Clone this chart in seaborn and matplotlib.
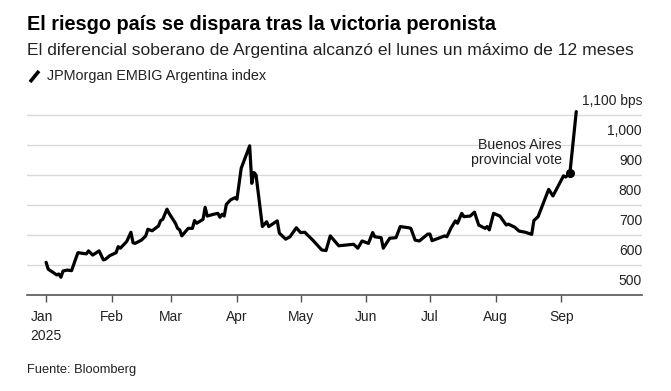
import matplotlib
matplotlib.use("Agg")
import matplotlib.pyplot as plt
import matplotlib.transforms as mtransforms
from matplotlib.lines import Line2D
import seaborn as sns
import pandas as pd

# JPMorgan EMBIG Argentina spread, bps
dates = [
    "2025-01-01", "2025-01-02", "2025-01-06", "2025-01-07", "2025-01-08", "2025-01-09",
    "2025-01-11", "2025-01-13", "2025-01-16", "2025-01-18", "2025-01-20", "2025-01-21",
    "2025-01-23", "2025-01-26", "2025-01-28", "2025-01-29", "2025-01-31", "2025-02-03",
    "2025-02-04", "2025-02-05", "2025-02-08", "2025-02-10", "2025-02-11", "2025-02-12",
    "2025-02-15", "2025-02-17", "2025-02-18", "2025-02-20", "2025-02-23", "2025-02-24",
    "2025-02-25", "2025-02-27", "2025-02-28", "2025-03-03", "2025-03-04", "2025-03-05",
    "2025-03-06", "2025-03-09", "2025-03-11", "2025-03-12", "2025-03-13", "2025-03-16",
    "2025-03-17", "2025-03-18", "2025-03-21", "2025-03-23", "2025-03-24", "2025-03-25",
    "2025-03-26", "2025-03-27", "2025-03-29", "2025-03-31", "2025-04-01", "2025-04-03",
    "2025-04-07", "2025-04-08", "2025-04-09", "2025-04-10", "2025-04-13", "2025-04-15",
    "2025-04-16", "2025-04-20", "2025-04-21", "2025-04-24", "2025-04-26", "2025-04-29",
    "2025-05-01", "2025-05-03", "2025-05-07", "2025-05-11", "2025-05-13", "2025-05-15",
    "2025-05-19", "2025-05-26", "2025-05-28", "2025-05-30", "2025-06-02", "2025-06-04",
    "2025-06-05", "2025-06-08", "2025-06-09", "2025-06-12", "2025-06-15", "2025-06-17",
    "2025-06-21", "2025-06-22", "2025-06-24", "2025-06-26", "2025-06-30", "2025-07-01",
    "2025-07-02", "2025-07-08", "2025-07-09", "2025-07-11", "2025-07-13", "2025-07-14",
    "2025-07-16", "2025-07-17", "2025-07-20", "2025-07-22", "2025-07-24", "2025-07-27",
    "2025-07-28", "2025-07-29", "2025-07-31", "2025-08-03", "2025-08-06", "2025-08-07",
    "2025-08-10", "2025-08-12", "2025-08-15", "2025-08-18", "2025-08-19", "2025-08-21",
    "2025-08-26", "2025-08-28", "2025-09-02", "2025-09-03", "2025-09-05", "2025-09-08",
]
spread = [
    609, 586, 567, 570, 559, 580,
    583, 581, 641, 639, 637, 647,
    633, 647, 617, 619, 631, 641,
    661, 656, 678, 709, 674, 672,
    683, 697, 719, 714, 730, 748,
    752, 786, 772, 739, 722, 717,
    697, 722, 722, 748, 739, 752,
    792, 763, 769, 772, 759, 769,
    763, 802, 817, 824, 819, 922,
    997, 872, 908, 900, 728, 744,
    728, 747, 706, 686, 694, 724,
    708, 709, 681, 650, 648, 697,
    664, 669, 656, 680, 672, 708,
    694, 691, 656, 689, 691, 728,
    724, 722, 683, 680, 703, 703,
    681, 697, 694, 724, 747, 739,
    772, 761, 763, 776, 733, 722,
    728, 717, 772, 763, 733, 736,
    726, 713, 709, 702, 748, 761,
    852, 830, 897, 893, 906, 1111,
]
vote_date = "2025-09-05"
vote_value = 906
vote_label = "Buenos Aires\nprovincial vote"

yticks = [500, 600, 700, 800, 900, 1000, 1100]
ytick_labels = ["500", "600", "700", "800", "900", "1,000", "1,100 bps"]
month_labels = ["Jan\n2025", "Feb", "Mar", "Apr", "May", "Jun", "Jul", "Aug", "Sep"]

title = "El riesgo país se dispara tras la victoria peronista"
subtitle = "El diferencial soberano de Argentina alcanzó el lunes un máximo de 12 meses"
legend_text = "JPMorgan EMBIG Argentina index"
source = "Fuente: Bloomberg"

df = pd.DataFrame({"date": pd.to_datetime(dates), "spread": spread})

sns.set_theme(style="white")
plt.rcParams["font.family"] = ["Liberation Sans", "DejaVu Sans"]

fig = plt.figure(figsize=(6.71, 3.91), dpi=100)
ax = fig.add_axes([27 / 671, 96 / 391, 615 / 671, 190 / 391])

sns.lineplot(data=df, x="date", y="spread", color="black", linewidth=2.3, ax=ax)
ax.plot(pd.Timestamp(vote_date), vote_value, "o", color="black", markersize=5.5)
ax.annotate(vote_label, xy=(pd.Timestamp(vote_date), vote_value),
            xytext=(-6, 15), textcoords="offset points", ha="right", va="center",
            fontsize=10.2, color="#222222", linespacing=1.05)

ax.set_ylim(500, 1133)
ax.set_xlim(pd.Timestamp("2024-12-23"), pd.Timestamp("2025-10-09"))

# gridlines
for v in yticks[1:]:
    ax.axhline(v, color="#d9d9d9", linewidth=1, zorder=0)
ax.set_yticks([])

# y labels sit inside the plot, right-aligned, just above each gridline
off = mtransforms.ScaledTranslation(0, 5 / 72, fig.dpi_scale_trans)
for v, lab in zip(yticks, ytick_labels):
    ax.text(1.0, v, lab, transform=ax.get_yaxis_transform() + off,
            ha="right", va="bottom", fontsize=10, color="#222222")

months = pd.date_range("2025-01-01", periods=9, freq="MS")
ax.set_xticks(months)
ax.set_xticklabels(month_labels, fontsize=10, color="#222222", linespacing=1.45)
ax.get_xticklabels()[0].set_multialignment("left")
ax.tick_params(axis="x", length=5, width=1, color="#555555", pad=6, bottom=True)

for s in ["top", "left", "right"]:
    ax.spines[s].set_visible(False)
ax.spines["bottom"].set_color("#555555")
ax.spines["bottom"].set_linewidth(1.2)
ax.set_xlabel("")
ax.set_ylabel("")

fig.text(27 / 671, 1 - 25 / 391, title, fontsize=14.3, fontweight="bold",
         va="center", ha="left", color="black")
fig.text(27 / 671, 1 - 50 / 391, subtitle, fontsize=12.6, va="center", ha="left",
         color="#222222")
# legend key: short thick slanted stroke
fig.add_artist(Line2D([30 / 671, 39 / 671], [1 - 82 / 391, 1 - 71 / 391],
                      color="black", linewidth=2.6, solid_capstyle="butt"))
fig.text(47 / 671, 1 - 76 / 391, legend_text, fontsize=10.4, va="center", ha="left",
         color="#222222")
fig.text(27 / 671, 1 - 370 / 391, source, fontsize=9.3, va="center", ha="left",
         color="#222222")

fig.savefig("out.png", dpi=100)
